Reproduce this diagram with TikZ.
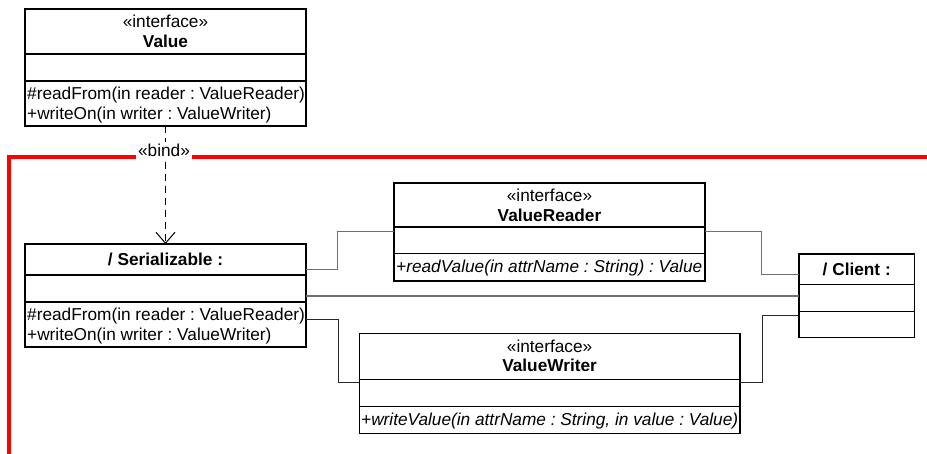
\documentclass[tikz,border=0pt]{standalone}
\usepackage{fontspec}
\setmainfont{Liberation Sans}
\usetikzlibrary{arrows.meta}
\definecolor{assocgray}{RGB}{110,110,110}
\definecolor{assocdark}{RGB}{40,40,40}
\definecolor{bindred}{RGB}{255,0,0}
\frenchspacing
\newcommand\umlfont{\fontsize{17.25}{20}\selectfont}
\begin{document}
\begin{tikzpicture}[x=1pt,y=-1pt,
  every node/.style={font=\umlfont},
  classbox/.style={draw, line width=1.1pt, inner sep=0pt, outer sep=0pt, anchor=north west},
  compart/.style={line width=1.1pt},
  classname/.style={anchor=base, inner sep=0pt, font=\umlfont\bfseries},
  stereo/.style={anchor=base, inner sep=0pt},
  oper/.style={anchor=base west, inner sep=0pt},
  abstractop/.style={oper, font=\umlfont\itshape},
  assoc/.style={draw=assocgray, line width=1pt},
  assocwide/.style={draw=assocgray, line width=1.5pt},
  assocblack/.style={draw=assocdark, line width=1pt},
  binding/.style={dash pattern=on 7pt off 5pt, line width=1pt,
    -{Straight Barb[length=11pt,width=19pt,line width=1pt]}},
  boundary/.style={draw=bindred, line width=3.5pt, line join=miter}
]
\useasboundingbox (0,0) rectangle (927,454);

% collaboration boundary
\coordinate (frame-bottom) at (9,454);
\coordinate (frame-corner) at (9,157);
\coordinate (frame-right) at (927,157);
\draw[boundary] (frame-bottom) -- (frame-corner) -- (frame-right);

% interface Value
\node[classbox, minimum width=281pt, minimum height=117pt] (value) at (25,9) {};
\draw[compart] (value.west |- 0,54) -- (value.east |- 0,54);
\draw[compart] (value.west |- 0,81) -- (value.east |- 0,81);
\node[stereo] (value-st) at (165.5,28) {«interface»};
\node[classname] (value-name) at (165.5,47.5) {Value};
\node[oper] (value-op1) at (27,99.5) {\#readFrom(in reader : ValueReader)};
\node[oper] (value-op2) at (27,119.5) {+writeOn(in writer : ValueWriter)};

% role Serializable
\node[classbox, minimum width=281pt, minimum height=103pt] (ser) at (25,244) {};
\draw[compart] (ser.west |- 0,275) -- (ser.east |- 0,275);
\draw[compart] (ser.west |- 0,302) -- (ser.east |- 0,302);
\node[classname] (ser-name) at (165.5,266) {/ Serializable :};
\node[oper] (ser-op1) at (27,320.5) {\#readFrom(in reader : ValueReader)};
\node[oper] (ser-op2) at (27,340.5) {+writeOn(in writer : ValueWriter)};

% interface ValueReader
\node[classbox, minimum width=311pt, minimum height=98pt] (vr) at (394,183) {};
\draw[compart] (vr.west |- 0,227) -- (vr.east |- 0,227);
\draw[compart] (vr.west |- 0,253.5) -- (vr.east |- 0,253.5);
\node[stereo] (vr-st) at (549.5,202) {«interface»};
\node[classname] (vr-name) at (549.5,221.5) {ValueReader};
\node[abstractop] (vr-op) at (396,272.5) {+readValue(in attrName : String) : Value};

% interface ValueWriter
\node[classbox, minimum width=380.7pt, minimum height=100pt] (vw) at (359.3,333.3) {};
\draw[compart] (vw.west |- 0,379.5) -- (vw.east |- 0,379.5);
\draw[compart] (vw.west |- 0,406.7) -- (vw.east |- 0,406.7);
\node[stereo] (vw-st) at (549.6,352.3) {«interface»};
\node[classname] (vw-name) at (549.6,371.8) {ValueWriter};
\node[abstractop] (vw-op) at (361,425.5) {+writeValue(in attrName : String, in value : Value)};

% role Client
\node[classbox, minimum width=115.5pt, minimum height=83.3pt] (client) at (799,254) {};
\draw[compart] (client.west |- 0,284.5) -- (client.east |- 0,284.5);
\draw[compart] (client.west |- 0,311.7) -- (client.east |- 0,311.7);
\node[classname] (client-name) at (856.75,276) {/ Client :};

% connectors
\draw[assoc] (ser.east |- 0,270) -- (337.3,270) |- (vr.west |- 0,231.7);
\draw[assoc] (vr.east |- 0,231.7) -- (761,231.7) |- (client.west |- 0,275);
\draw[assocwide] (ser.east |- 0,296) -- (client.west |- 0,296);
\draw[assocblack] (ser.east |- 0,320) -- (338.3,320) |- (vw.west |- 0,382.7);
\draw[assocblack] (vw.east |- 0,382.7) -- (762,382.7) |- (client.west |- 0,315.7);

% binding
\draw[binding] (value.south) -- (ser.north);
\node[anchor=base, fill=white, inner sep=2.5pt] (bind) at (164,157) {«bind»};
\end{tikzpicture}
\end{document}
